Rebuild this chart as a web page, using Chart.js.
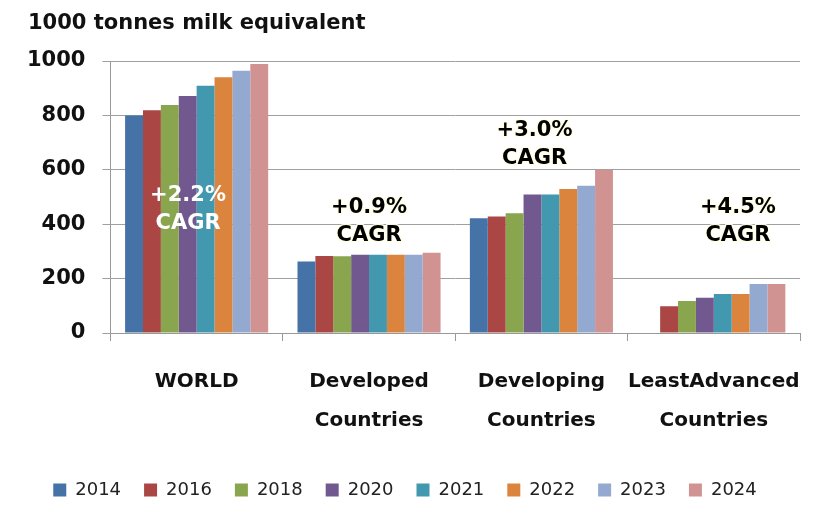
<!DOCTYPE html>
<html><head><meta charset="utf-8">
<script src="https://cdn.jsdelivr.net/npm/chart.js@4/dist/chart.umd.min.js"></script>
<style>html,body{margin:0;padding:0;background:#fff;}#wrap{width:827px;height:523px;}</style>
</head><body><div id="wrap"><canvas id="c" width="827" height="523"></canvas></div>
<script>
const categories = [["WORLD"], ["Developed", "Countries"], ["Developing", "Countries"], ["LeastAdvanced", "Countries"]];
const years = ["2014", "2016", "2018", "2020", "2021", "2022", "2023", "2024"];
const v2014 = [800, 263, 422, 0];
const v2016 = [819, 283, 428, 98];
const v2018 = [838, 282, 440, 118];
const v2020 = [871, 288, 509, 130];
const v2021 = [909, 288, 509, 143];
const v2022 = [940, 288, 529, 143];
const v2023 = [964, 288, 541, 180];
const v2024 = [989, 295, 600, 180];
const seriesValues = [v2014, v2016, v2018, v2020, v2021, v2022, v2023, v2024];
const colors = ["#4572A7", "#AA4643", "#89A54E", "#71588F", "#4198AF", "#DB843D", "#93A9CF", "#D19392"];
const yTicks = [0, 200, 400, 600, 800, 1000];
const titleText = "1000 tonnes milk equivalent";
const cagrLabels = ["+2.2%", "+0.9%", "+3.0%", "+4.5%"];
const cagrValues = [505, 461, 745, 461];
const cagrOffsets = [-0.05, 0, -0.04, 0.14];
const cagrColors = ["#ffffff", "#000000", "#000000", "#000000"];

const FONT = "'DejaVu Sans', sans-serif";

const titlePlugin = {
  id: 'ttl',
  afterDraw(chart) {
    const ctx = chart.ctx;
    ctx.save();
    ctx.font = "bold 21px " + FONT;
    ctx.fillStyle = '#111';
    ctx.textAlign = 'left';
    ctx.textBaseline = 'middle';
    ctx.fillText(titleText, 28, 24);
    ctx.restore();
  }
};

const cagrPlugin = {
  id: 'cagr',
  afterDatasetsDraw(chart) {
    const ctx = chart.ctx, x = chart.scales.x, y = chart.scales.y;
    ctx.save();
    ctx.font = "bold 21px " + FONT;
    ctx.textAlign = 'center';
    ctx.textBaseline = 'middle';
    cagrLabels.forEach((lab, i) => {
      const cx = x.getPixelForValue(i) + cagrOffsets[i] * (x.getPixelForValue(1) - x.getPixelForValue(0));
      const cy = y.getPixelForValue(cagrValues[i]);
      const lines = [lab, "CAGR"];
      lines.forEach((t, j) => {
        const yy = cy + j * 28;
        if (cagrColors[i] === "#000000") {
          ctx.lineWidth = 3; ctx.strokeStyle = 'rgba(255,255,230,0.9)';
          ctx.lineJoin = 'round';
          ctx.strokeText(t, cx, yy);
        }
        ctx.fillStyle = cagrColors[i];
        ctx.fillText(t, cx, yy);
      });
    });
    ctx.restore();
  }
};

new Chart(document.getElementById('c'), {
  type: 'bar',
  data: {
    labels: categories,
    datasets: years.map((yr, i) => ({
      label: yr,
      data: seriesValues[i],
      backgroundColor: colors[i],
      borderWidth: 0,
      barPercentage: 1.0,
      categoryPercentage: 0.83
    }))
  },
  options: {
    responsive: false,
    animation: false,
    layout: { padding: { left: 10, right: 27, top: 61, bottom: 14 } },
    plugins: {
      title: { display: false },
      legend: {
        position: 'bottom',
        labels: {
          color: '#222', font: { family: FONT, size: 18 },
          boxWidth: 13, boxHeight: 13, padding: 23
        }
      },
      tooltip: { enabled: false }
    },
    scales: {
      x: {
        offset: true,
        afterFit: (s) => { s.height -= 3; },
        grid: { display: true, drawOnChartArea: false, drawTicks: true, tickLength: 8, color: '#999', offset: true },
        border: { display: true, color: '#999' },
        ticks: { color: '#111', font: { family: FONT, size: 20, weight: 'bold', lineHeight: 1.95 }, padding: 21, maxRotation: 0, autoSkip: false }
      },
      y: {
        min: 0, max: 1000,
        afterBuildTicks: (s) => { s.ticks = yTicks.map(v => ({ value: v })); },
        grid: { color: '#A0A0A0', drawTicks: true, tickLength: 8 },
        border: { display: true, color: '#999' },
        ticks: { color: '#111', font: { family: FONT, size: 21, weight: 'bold' }, padding: 17, callback: (v) => String(v) }
      }
    }
  },
  plugins: [cagrPlugin, titlePlugin]
});
</script></body></html>
